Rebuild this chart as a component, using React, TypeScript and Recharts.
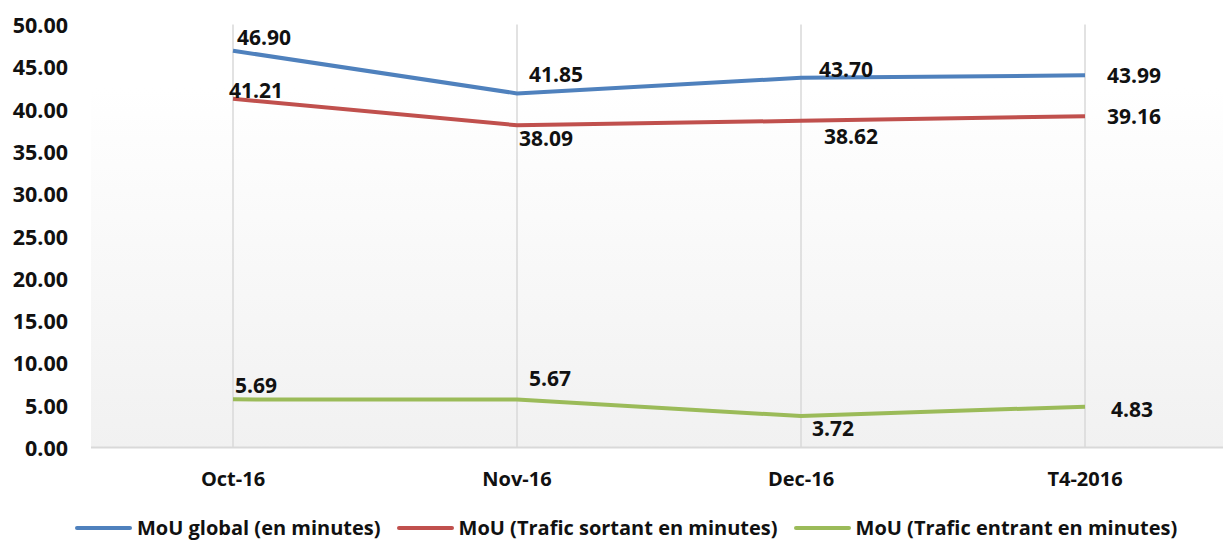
import React from "react";
import { LineChart, Line, XAxis, YAxis, CartesianGrid, Legend, LabelList } from "recharts";

const categories = ["Oct-16", "Nov-16", "Dec-16", "T4-2016"];
const mouGlobal = [46.9, 41.85, 43.7, 43.99];
const mouSortant = [41.21, 38.09, 38.62, 39.16];
const mouEntrant = [5.69, 5.67, 3.72, 4.83];
const yTicks = [0, 5, 10, 15, 20, 25, 30, 35, 40, 45, 50];

const seriesNames = [
  "MoU global (en minutes)",
  "MoU (Trafic sortant en minutes)",
  "MoU (Trafic entrant en minutes)",
];
const seriesColors = ["#4f81bd", "#c0504d", "#9bbb59"];

// label placement (styling)
const labelOffsets = {
  g: { dx: [31, 39, 45, 49], dy: [-14, -19, -9, 0] },
  s: { dx: [23, 29, 50, 49], dy: [-9, 13, 15, 0] },
  e: { dx: [23, 33, 32, 47], dy: [-14, -22, 12, 2] },
};

const data = categories.map((c, i) => ({
  cat: c,
  g: mouGlobal[i],
  s: mouSortant[i],
  e: mouEntrant[i],
}));

const FONT = "'Open Sans', 'DejaVu Sans', sans-serif";

const makeLabel = (key: "g" | "s" | "e") => (props: any) => {
  const { x, y, value, index } = props;
  const off = labelOffsets[key];
  return (
    <text
      x={x + off.dx[index]}
      y={y + off.dy[index]}
      textAnchor="middle"
      dominantBaseline="central"
      fontFamily={FONT}
      fontWeight={700}
      fontSize={21}
      fill="#111"
    >
      {Number(value).toFixed(2)}
    </text>
  );
};

const XTick = (props: any) => {
  const { x, y, payload } = props;
  return (
    <text
      x={x}
      y={y}
      dy={23}
      textAnchor="middle"
      dominantBaseline="central"
      fontFamily={FONT}
      fontWeight={700}
      fontSize={20}
      fill="#111"
    >
      {payload.value}
    </text>
  );
};

const YTick = (props: any) => {
  const { x, y, payload } = props;
  return (
    <text
      x={x}
      y={y}
      textAnchor="end"
      dominantBaseline="central"
      fontFamily={FONT}
      fontWeight={700}
      fontSize={21.5}
      fill="#111"
    >
      {Number(payload.value).toFixed(2)}
    </text>
  );
};

const LegendContent = () => (
  <div
    style={{
      display: "flex",
      alignItems: "center",
      marginLeft: 75,
      height: 0,
      overflow: "visible",
    }}
  >
    {seriesNames.map((n, i) => (
      <div key={n} style={{ display: "flex", alignItems: "center", marginRight: 16 }}>
        <div style={{ width: 57, height: 4, background: seriesColors[i], borderRadius: 2, marginRight: 5 }} />
        <span
          style={{
            fontFamily: FONT,
            fontWeight: 700,
            fontSize: 20,
            color: "#111",
            whiteSpace: "nowrap",
            lineHeight: "24px",
          }}
        >
          {n}
        </span>
      </div>
    ))}
  </div>
);

export default function App() {
  return (
    <div style={{ position: "absolute", left: 0, top: 0, width: 1223, height: 544, overflow: "hidden", background: "#fff" }}>
      <LineChart
        width={1232}
        height={544}
        data={data}
        margin={{ top: 24.5, right: 5, bottom: 56.5, left: 0 }}
      >
        <defs>
          <linearGradient id="bgGrad" x1="0" y1="0" x2="0" y2="1">
            <stop offset="0%" stopColor="#ffffff" />
            <stop offset="15%" stopColor="#ffffff" />
            <stop offset="100%" stopColor="#f1f1f1" />
          </linearGradient>
        </defs>
        <CartesianGrid
          horizontal={false}
          vertical
          syncWithTicks
          stroke="#d9d9d9"
          strokeWidth={1.5}
          fill="url(#bgGrad)"
        />
        <XAxis
          dataKey="cat"
          scale="band"
          height={40}
          tickLine={false}
          axisLine={{ stroke: "#d9d9d9", strokeWidth: 2 }}
          tick={<XTick />}
          interval={0}
        />
        <YAxis
          width={91}
          domain={[0, 50]}
          ticks={yTicks}
          tickLine={false}
          axisLine={false}
          tickSize={0}
          tickMargin={23}
          tick={<YTick />}
          interval={0}
        />
        <Legend
          content={<LegendContent />}
          wrapperStyle={{ position: "absolute", top: 528, left: 0, width: 1223, height: 0 }}
        />
        <Line type="linear" dataKey="g" name={seriesNames[0]} stroke={seriesColors[0]} strokeWidth={4} dot={false} isAnimationActive={false}>
          <LabelList dataKey="g" content={makeLabel("g")} />
        </Line>
        <Line type="linear" dataKey="s" name={seriesNames[1]} stroke={seriesColors[1]} strokeWidth={4} dot={false} isAnimationActive={false}>
          <LabelList dataKey="s" content={makeLabel("s")} />
        </Line>
        <Line type="linear" dataKey="e" name={seriesNames[2]} stroke={seriesColors[2]} strokeWidth={4} dot={false} isAnimationActive={false}>
          <LabelList dataKey="e" content={makeLabel("e")} />
        </Line>
      </LineChart>
    </div>
  );
}
